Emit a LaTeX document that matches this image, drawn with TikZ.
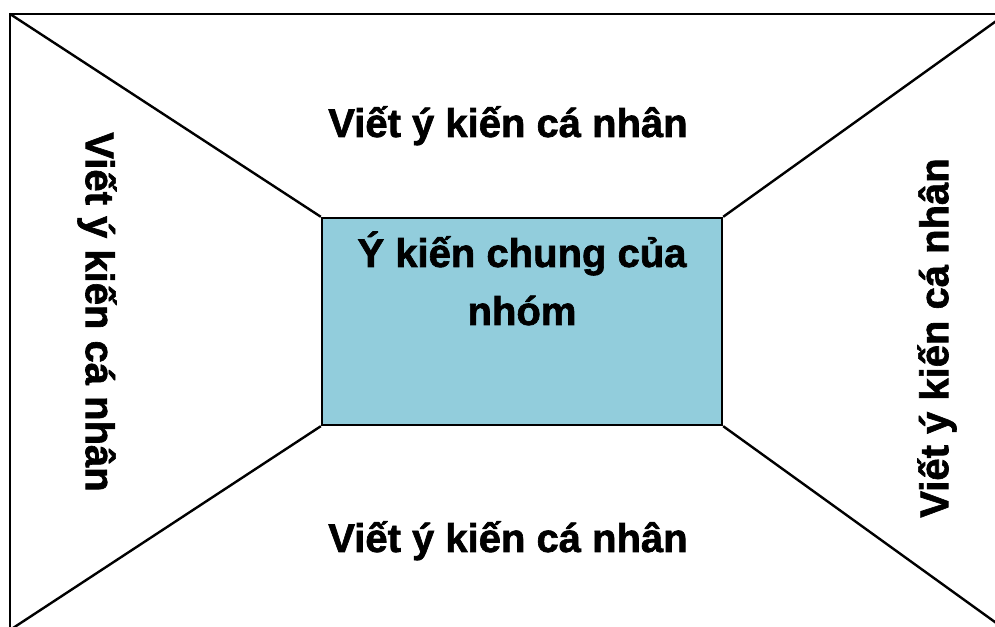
\documentclass[tikz,border=0pt]{standalone}
\usepackage{fontspec}
\setmainfont{Liberation Sans}[BoldFeatures={FakeBold=1.6}]
\definecolor{groupfill}{RGB}{146,205,220}
\begin{document}
\begin{tikzpicture}[x=1pt,y=1pt,
  frame/.style={draw=black,line width=2.4pt},
  ray/.style={draw=black,line width=2.4pt},
  label/.style={font=\bfseries\fontsize{40}{58}\selectfont,inner sep=0pt}]
\useasboundingbox (0,0) rectangle (995,626);
\begin{scope}
\clip (0,0) rectangle (995,626);
% outer sheet corners
\coordinate (tl) at (10,612);
\coordinate (tr) at (1006,612);
\coordinate (bl) at (10,-4);
\coordinate (br) at (1006,-4);
\draw[frame] (tl) -- (tr) -- (br) -- (bl) -- cycle;
% shared area in the middle
\node[frame,fill=groupfill,minimum width=400,minimum height=207,inner sep=0pt]
  (group) at (522,304.5) {};
\draw[ray] (tl) -- (group.north west);
\draw[ray] (tr) -- (group.north east);
\draw[ray] (bl) -- (group.south west);
\draw[ray] (br) -- (group.south east);
\end{scope}
% texts
\node[label,align=center,anchor=base] (grouptext) at (522,301) {Ý kiến chung của\\nhóm};
\node[label,anchor=base] (top) at (508,489) {Viết ý kiến cá nhân};
\node[label,anchor=base] (bottom) at (508,74) {Viết ý kiến cá nhân};
\node[label,rotate=-90] (left) at (97,314) {Viết ý kiến cá nhân};
\node[label,rotate=90] (right) at (937,288) {Viết ý kiến cá nhân};
\end{tikzpicture}
\end{document}
